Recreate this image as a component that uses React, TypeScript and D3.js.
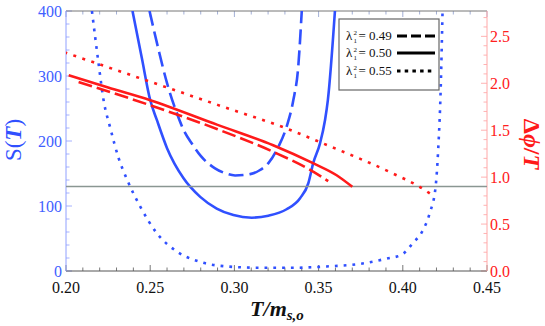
import * as d3 from 'd3';

// S(T) curves (left axis): [T/m, S]
const sDashed: [number, number][] = [
  [0.2496, 400], [0.255, 340], [0.26, 289], [0.2658, 243], [0.27, 216], [0.275, 195],
  [0.28, 177], [0.2885, 158], [0.295, 150], [0.3004, 147], [0.3093, 149], [0.315, 155],
  [0.3202, 166], [0.3261, 191], [0.331, 222], [0.335, 263], [0.3379, 314], [0.34, 400],
];
const sSolid: [number, number][] = [
  [0.2395, 400], [0.245, 328], [0.25, 263], [0.254, 232], [0.26, 189], [0.2697, 143],
  [0.2797, 114], [0.2895, 96], [0.2994, 86], [0.3103, 82], [0.3202, 85], [0.331, 95],
  [0.339, 112], [0.3439, 135], [0.3468, 166], [0.3508, 196], [0.3538, 232], [0.3555, 263],
  [0.3597, 400],
];
const sDotted: [number, number][] = [
  [0.2154, 400], [0.2193, 320], [0.2223, 263], [0.2263, 220], [0.2312, 174], [0.2362, 141],
  [0.2441, 99], [0.254, 58], [0.2658, 30], [0.2797, 14], [0.2955, 7], [0.3152, 5],
  [0.335, 5], [0.3548, 7], [0.3745, 11], [0.3903, 19], [0.3993, 25], [0.406, 43],
  [0.412, 63], [0.416, 89], [0.4195, 130], [0.421, 186], [0.4225, 280], [0.4236, 400],
];

// ΔΦ/T curves (right axis): [T/m, ΔΦ/T]
const phiDashed: [number, number][] = [
  [0.2075, 2.014], [0.25, 1.766], [0.29, 1.51], [0.323, 1.27], [0.347, 1.056], [0.3557, 0.957],
];
const phiSolid: [number, number][] = [
  [0.2016, 2.085], [0.225, 1.955], [0.25, 1.82], [0.29, 1.557], [0.323, 1.34], [0.347, 1.146],
  [0.3607, 1.02], [0.37, 0.897],
];
const phiDotted: [number, number][] = [
  [0.199, 2.33], [0.256, 1.98], [0.29, 1.77], [0.331, 1.518], [0.3528, 1.358], [0.394, 1.04],
  [0.41, 0.897], [0.419, 0.79],
];

const legendLabels = ['0.49', '0.50', '0.55'];
const xTicks = [0.2, 0.25, 0.3, 0.35, 0.4, 0.45];
const leftTicks = [0, 100, 200, 300, 400];
const rightTicks = [0, 0.5, 1, 1.5, 2, 2.5];
const thresholdS = 130;

const W = 545, H = 326;
const left = 66, right = 487, top = 11, bottom = 271;

const blue = '#3050ff';
const red = '#ff1a1a';
const serif = 'Liberation Serif, DejaVu Serif, serif';

export default function App() {
  const x = d3.scaleLinear().domain([0.2, 0.45]).range([left, right]);
  const yS = d3.scaleLinear().domain([0, 400]).range([bottom, top]);
  const yP = d3.scaleLinear().domain([0, 400 / 144.4]).range([bottom, top]);

  const lineS = d3.line<[number, number]>().x(d => x(d[0])).y(d => yS(d[1])).curve(d3.curveMonotoneX);
  const lineP = d3.line<[number, number]>().x(d => x(d[0])).y(d => yP(d[1])).curve(d3.curveMonotoneX);

  const xMinor = d3.range(0.2, 0.4501, 0.01);
  const sMinor = d3.range(0, 401, 20);
  const pMinor = d3.range(0, 2.75, 0.1);

  const styles = [
    { dash: '15,6', legend: '10,4' },
    { dash: null, legend: null },
    { dash: '2.8,6', legend: '3.5,4.2' },
  ];

  return (
    <svg width={W} height={H} style={{ position: 'absolute', left: 0, top: 0, background: '#fff', fontFamily: serif }}>
      <defs>
        <clipPath id="plot">
          <rect x={left} y={top} width={right - left} height={bottom - top} />
        </clipPath>
      </defs>

      {/* frame ticks */}
      {xMinor.map((t, i) => {
        const major = i % 5 === 0;
        return (
          <g key={'xt' + i}>
            <line x1={x(t)} x2={x(t)} y1={bottom} y2={bottom - (major ? 6 : 3.5)} stroke="#555" strokeWidth={0.8} />
            <line x1={x(t)} x2={x(t)} y1={top} y2={top + (major ? 6 : 3.5)} stroke="#8a9acc" strokeWidth={0.8} />
          </g>
        );
      })}
      {sMinor.map((v, i) => (
        <line key={'st' + i} x1={left} x2={left + (v % 100 === 0 ? 6 : 3.5)} y1={yS(v)} y2={yS(v)} stroke="#90a0ff" strokeWidth={0.8} />
      ))}
      {pMinor.map((v, i) => (
        <line key={'pt' + i} x1={right} x2={right - (i % 5 === 0 ? 6 : 3.5)} y1={yP(v)} y2={yP(v)} stroke="#ffa0a0" strokeWidth={0.8} />
      ))}

      {/* frame */}
      <line x1={left} x2={right} y1={top} y2={top} stroke="#777" strokeWidth={1} />
      <line x1={left} x2={right} y1={bottom} y2={bottom} stroke="#555" strokeWidth={1} />
      <line x1={left} x2={left} y1={top} y2={bottom} stroke="#90a0ff" strokeWidth={1} />
      <line x1={right} x2={right} y1={top} y2={bottom} stroke="#ffa8a8" strokeWidth={1} />

      <g clipPath="url(#plot)" fill="none">
        {[sDashed, sSolid, sDotted].map((d, i) => (
          <path key={'s' + i} d={lineS(d) || ''} stroke={blue} strokeWidth={2.6}
            strokeDasharray={styles[i].dash || undefined} />
        ))}
        <line x1={left} x2={right} y1={yS(thresholdS)} y2={yS(thresholdS)} stroke="#8a9692" strokeWidth={1.6} />
        {[phiDashed, phiSolid, phiDotted].map((d, i) => (
          <path key={'p' + i} d={lineP(d) || ''} stroke={red} strokeWidth={2.6}
            strokeDasharray={i === 0 ? '14,5' : i === 2 ? '3,6.5' : undefined} />
        ))}
      </g>

      {/* tick labels */}
      <g fontSize={16}>
        {xTicks.map(t => (
          <text key={'xl' + t} x={x(t)} y={293} textAnchor="middle" fill="#111">{t.toFixed(2)}</text>
        ))}
        {leftTicks.map(v => (
          <text key={'ll' + v} x={62} y={yS(v)} dy="0.35em" textAnchor="end" fill="#4060ff">{v}</text>
        ))}
        {rightTicks.map(v => (
          <text key={'rl' + v} x={490} y={yP(v)} dy="0.35em" textAnchor="start" fill="#ff2020">{v.toFixed(1)}</text>
        ))}
      </g>

      {/* axis titles */}
      <text x={277} y={316} textAnchor="middle" fontSize={22} fontWeight="bold" fontStyle="italic" fill="#111">
        T/m<tspan fontSize={15} dy={4}>s,o</tspan>
      </text>
      <text transform="translate(21,140) rotate(-90)" textAnchor="middle" fontSize={23} fill={blue}>
        S(<tspan fontWeight="bold" fontStyle="italic">T</tspan>)
      </text>
      <text transform="translate(524,144) rotate(90)" textAnchor="middle" fontSize={24} fontWeight="bold" fill={red}>
        Δ<tspan fontStyle="italic">ϕ</tspan>/<tspan fontStyle="italic">T</tspan>
      </text>

      {/* legend */}
      <rect x={339} y={19} width={100} height={71} fill="#fff" stroke="#666" strokeWidth={1.2} />
      {legendLabels.map((lab, i) => {
        const yy = [36, 53, 71][i];
        return (
          <g key={'lg' + i} fill="#111">
            <text x={346} y={yy + 4} fontSize={13}>λ</text>
            <text x={353.5} y={yy - 1.5} fontSize={7}>2</text>
            <text x={353.5} y={yy + 6.5} fontSize={7}>1</text>
            <text x={358.5} y={yy + 4} fontSize={13}>= {lab}</text>
            <line x1={397} x2={435} y1={yy} y2={yy} stroke="#000" strokeWidth={3}
              strokeDasharray={styles[i].legend || undefined} />
          </g>
        );
      })}
    </svg>
  );
}
